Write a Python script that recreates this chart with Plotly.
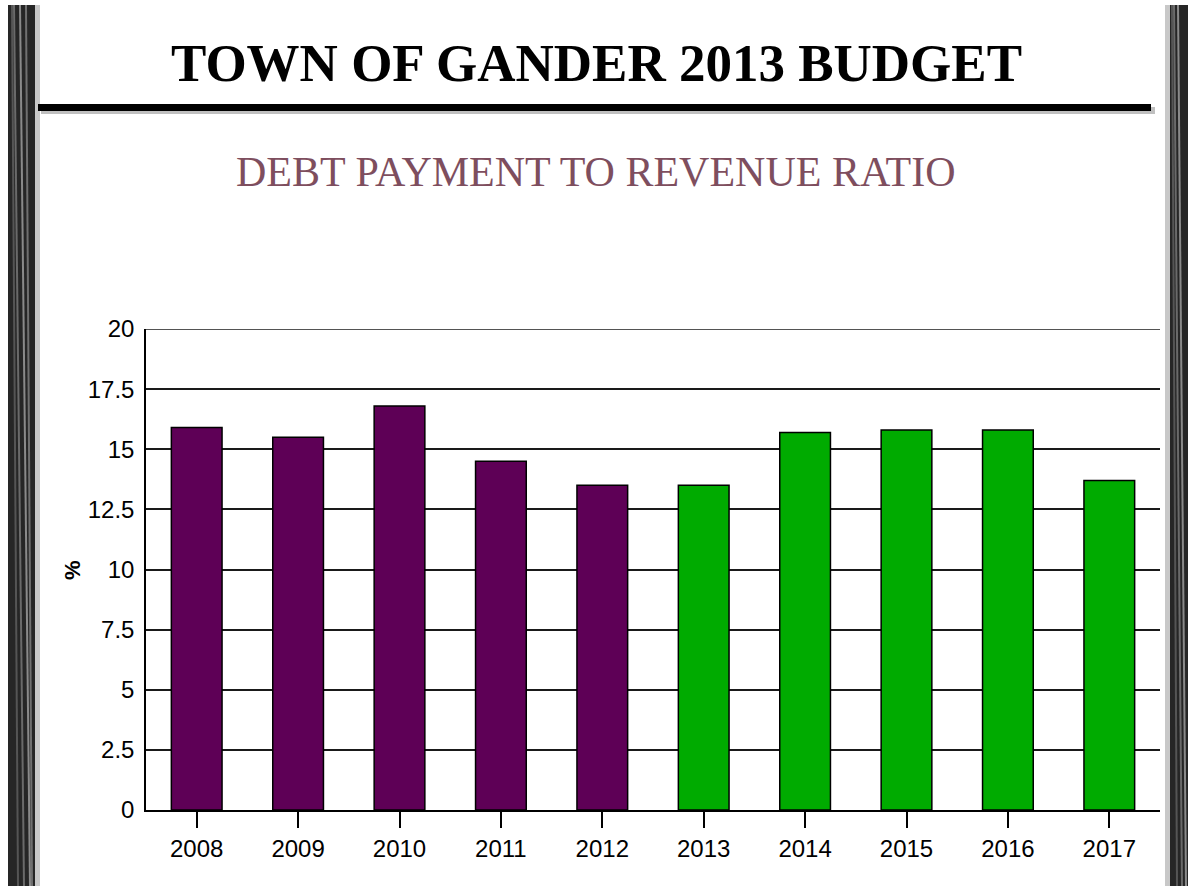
import plotly.graph_objects as go

years = ["2008", "2009", "2010", "2011", "2012", "2013", "2014", "2015", "2016", "2017"]
ratios = [15.9, 15.5, 16.8, 14.5, 13.5, 13.5, 15.7, 15.8, 15.8, 13.7]
bar_colors = ["#5E0056"] * 5 + ["#00AB00"] * 5
y_ticks = [0, 2.5, 5, 7.5, 10, 12.5, 15, 17.5, 20]
y_tick_text = ["0", "2.5", "5", "7.5", "10", "12.5", "15", "17.5", "20"]

W, H = 1188, 886
L, R, T, B = 146, 28, 329, 76
PW, PH = W - L - R, H - T - B


def px(x):
    return (x - L) / PW


def py(y):
    return (H - B - y) / PH


fig = go.Figure(go.Bar(
    x=years, y=ratios,
    marker=dict(color=bar_colors, line=dict(color="#000000", width=1.5)),
    width=0.5,
))

shapes = []
# top gridline at 20
shapes.append(dict(type="line", xref="paper", yref="y", x0=0, x1=1, y0=20, y1=20,
                   line=dict(color="#1a1a1a", width=1.5), layer="below"))
# decorative side strips
for x0, x1, col in [(8, 35, "#262626"), (35, 40, "#c8c8c8"), (1165, 1170, "#c8c8c8"), (1170, 1188, "#262626")]:
    shapes.append(dict(type="rect", xref="paper", yref="paper", x0=px(x0), x1=px(x1),
                       y0=py(886), y1=py(5), fillcolor=col, line=dict(width=0), layer="above"))
# texture streaks
streaks = [(14, 24, "#6a6a6a"), (20, 30, "#8a8a8a"), (12, 18, "#555555"), (26, 32, "#707070"),
           (1174, 1182, "#6a6a6a"), (1178, 1186, "#8a8a8a"), (1172, 1177, "#555555")]
for a, b, col in streaks:
    shapes.append(dict(type="line", xref="paper", yref="paper", x0=px(a), x1=px(b),
                       y0=py(5), y1=py(886), line=dict(color=col, width=2), layer="above"))
# horizontal rule with shadow
shapes.append(dict(type="rect", xref="paper", yref="paper", x0=px(41), x1=px(1155),
                   y0=py(114), y1=py(107), fillcolor="#c0c0c0", line=dict(width=0)))
shapes.append(dict(type="rect", xref="paper", yref="paper", x0=px(38), x1=px(1151),
                   y0=py(111), y1=py(104), fillcolor="#000000", line=dict(width=0)))

annotations = [
    dict(text="<b>TOWN OF GANDER 2013 BUDGET</b>", xref="paper", yref="paper",
         x=px(596), y=py(63), xanchor="center", yanchor="middle", showarrow=False,
         font=dict(family="Liberation Serif", size=53, color="#000000")),
    dict(text="DEBT PAYMENT TO REVENUE RATIO", xref="paper", yref="paper",
         x=px(596), y=py(172), xanchor="center", yanchor="middle", showarrow=False,
         font=dict(family="Liberation Serif", size=42, color="#7E4E5E")),
    dict(text="<b>%</b>", xref="paper", yref="paper",
         x=px(72), y=py(570), xanchor="center", yanchor="middle", showarrow=False,
         textangle=-90, font=dict(family="Liberation Sans", size=22, color="#000000")),
]

fig.update_layout(
    width=W, height=H,
    margin=dict(l=L, r=R, t=T, b=B, pad=0),
    paper_bgcolor="#ffffff", plot_bgcolor="#ffffff",
    showlegend=False,
    bargap=0.5,
    shapes=shapes,
    annotations=annotations,
    font=dict(family="Liberation Sans", color="#000000"),
    xaxis=dict(
        showline=True, linecolor="#000000", linewidth=1.5,
        ticks="outside", ticklen=16, tickwidth=1.5, tickcolor="#000000",
        tickfont=dict(family="Liberation Sans", size=24, color="#000000"),
        ticklabelstandoff=0,
        showgrid=False,
    ),
    yaxis=dict(
        range=[0, 20], tickvals=y_ticks, ticktext=y_tick_text,
        showline=True, linecolor="#000000", linewidth=1.5,
        showgrid=True, gridcolor="#1a1a1a", gridwidth=1.5,
        zeroline=False, ticks="",
        tickfont=dict(family="Liberation Sans", size=24, color="#000000"),
        ticklabelstandoff=5,
    ),
)

fig.write_html("out.html", config={"displayModeBar": False},
               post_script="document.body.style.margin='0';")
